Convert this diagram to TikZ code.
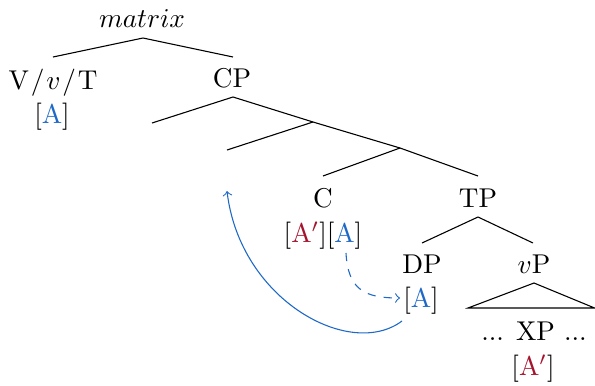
\documentclass[tikz,border=0pt]{standalone}
\usepackage{xcolor}
\definecolor{fblue}{RGB}{30,105,200}
\definecolor{fred}{RGB}{165,20,45}
\begin{document}
\begin{tikzpicture}[x=0.368pt,y=-0.368pt,
  lab/.style={anchor=base, inner sep=0pt},
  branch/.style={line width=0.4pt},
  mv/.style={fblue, ->, line width=0.4pt}]
\useasboundingbox (0,0) rectangle (595,385);
% labels
\node[lab] (matrix) at (142,27) {$matrix$};
\node[lab] (vvt) at (53,89.5) {V\kern0.7pt/\kern0.7pt$v$\kern0.7pt/\kern0.7ptT};
\node[lab] (vvtA) at (52,123) {[\textcolor{fblue}{A}]};
\node[lab] (cp) at (232,87) {CP};
\node[lab] (c) at (323,207) {C};
\node[lab] (cF) at (323,242) {[\textcolor{fred}{A$'$}][\textcolor{fblue}{A}]};
\node[lab] (tp) at (478,207) {TP};
\node[lab] (dp) at (422,273) {DP};
\node[lab] (dpA) at (421,307) {[\textcolor{fblue}{A}]};
\node[lab] (vp) at (534,273) {$v$P};
\node[lab] (xp) at (534,340) {... XP ...};
\node[lab] (xpA) at (533,375) {[\textcolor{fred}{A$'$}]};
% tree points
\coordinate (mB) at (143,38);
\coordinate (vT) at (53,57);
\coordinate (cpT) at (233,57);
\coordinate (cpB) at (233,97);
\coordinate (spec1) at (152,123);
\coordinate (cbar1) at (313,122);
\coordinate (spec2) at (227,150);
\coordinate (cbar2) at (400,148);
\coordinate (cT) at (323,176);
\coordinate (tpT) at (478,176);
\coordinate (tpB) at (478,217);
\coordinate (dpT) at (422,243);
\coordinate (vpT) at (533,243);
\coordinate (vpB) at (534,283);
\coordinate (triL) at (468,308);
\coordinate (triR) at (594.6,308);
\coordinate (land) at (227,191);
\coordinate (mvS) at (402,321);
\coordinate (agS) at (346,253);
\coordinate (agE) at (400,298);
% branches
\draw[branch] (vT) -- (mB) -- (cpT);
\draw[branch] (spec1) -- (cpB) -- (cbar1);
\draw[branch] (spec2) -- (cbar1) -- (cbar2);
\draw[branch] (cT) -- (cbar2) -- (tpT);
\draw[branch] (dpT) -- (tpB) -- (vpT);
\draw[branch] (vpB) -- (triL) -- (triR) -- cycle;
% movement arrows
\draw[mv] (mvS) .. controls (350,360) and (240,300) .. (land);
\draw[mv, dashed] (agS) .. controls (348,290) and (365,298) .. (agE);
\end{tikzpicture}
\end{document}
